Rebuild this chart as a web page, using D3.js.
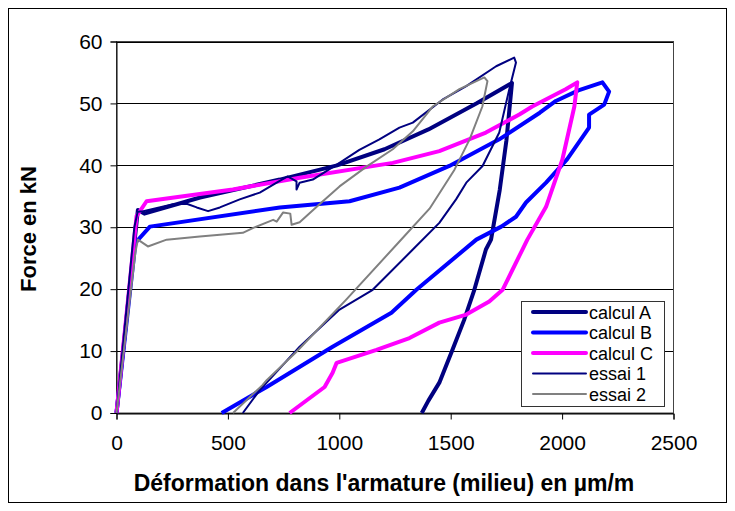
<!DOCTYPE html>
<html><head><meta charset="utf-8">
<script src="https://cdn.jsdelivr.net/npm/d3@7"></script>
<style>body{margin:0;background:#fff}svg{display:block}text{font-family:"Liberation Sans",Arial,sans-serif}</style>
</head><body><svg id="c" width="735" height="511"></svg>
<script>
const xTicks = [0, 500, 1000, 1500, 2000, 2500];
const yTicks = [0, 10, 20, 30, 40, 50, 60];
const seriesNames = ["calcul A", "calcul B", "calcul C", "essai 1", "essai 2"];
const calculA = [[0,0],[96,32.8],[125,32.2],[375,34.8],[733,37.7],[990,40],[1203,42.6],[1400,45.8],[1615,50],[1775,53.3],[1750,44],[1720,36],[1681,28],[1658,26.4],[1606,19.9],[1560,15],[1508,10.2],[1449,4.9],[1400,2],[1370,0]];
const calculB = [[0,0],[85,27.5],[150,30.1],[733,33.2],[1046,34.2],[1270,36.4],[1494,39.9],[1718,44.2],[1900,48.5],[1972,50.4],[2073,52.1],[2181,53.4],[2211,51.9],[2189,49.8],[2121,48.2],[2121,46.1],[2023,41],[1928,37.2],[1838,34],[1793,31.7],[1727,30.1],[1615,28],[1346,19.9],[1234,16.2],[970,10.7],[674,4.2],[472,0]];
const calculC = [[0,0],[90,31.8],[135,34.2],[522,36.1],[822,38.0],[1240,40.4],[1449,42.3],[1658,45.3],[1808,48.2],[1866,49.5],[2016,52.3],[2068,53.4],[2055,49.5],[2001,40.9],[1928,33.3],[1844,28],[1822,26.4],[1733,19.9],[1673,18],[1570,15.9],[1449,14.6],[1315,12.1],[1167,10.2],[988,8.1],[970,6.5],[934,4.2],[777,0]];
const essai1 = [[0,0],[80,30],[95,32.5],[120,32.6],[254,33.7],[315,33.8],[360,33.2],[411,32.6],[464,33.2],[553,34.5],[643,35.6],[719,37.2],[768,38.2],[808,37.4],[808,36.1],[822,37.2],[881,37.7],[1001,40.4],[1090,42.5],[1180,44.2],[1270,46.1],[1330,46.9],[1463,50.6],[1570,52.8],[1704,56],[1785,57.4],[1793,56.6],[1763,52.3],[1718,45.3],[1643,39.9],[1570,37.2],[1524,34.5],[1449,30.7],[1330,26.4],[1150,19.9],[1001,16.7],[822,10.7],[643,3.7],[567,0]];
const essai2 = [[0,0],[85,26],[96,28],[141,26.9],[225,28],[374,28.5],[567,29.1],[614,29.9],[703,31.2],[719,30.9],[748,32.4],[780,32.2],[786,30.4],[822,30.8],[911,33.7],[1001,36.6],[1122,39.8],[1240,42.6],[1330,45.5],[1419,49.5],[1539,52.3],[1651,54.2],[1665,53.6],[1642,49.5],[1585,44.2],[1517,39.3],[1405,33],[1270,27.7],[1031,18.3],[808,9.9],[674,5.3],[655,4.5],[523,0]];
const seriesData = [calculA, calculB, calculC, essai1, essai2];
const colors = ["#000080", "#0000FF", "#FF00FF", "#000080", "#808080"];
const widths = [4, 4, 4, 2, 2];

const svg = d3.select("#c");
const L = 116.5, R = 673.5, T = 41.5, B = 413;
const x = d3.scaleLinear().domain([0, 2500]).range([L, R]);
const y = d3.scaleLinear().domain([0, 60]).range([B, T]);

svg.append("rect").attr("x", 8.5).attr("y", 8.5).attr("width", 718).attr("height", 494)
  .attr("fill", "#fff").attr("stroke", "#000").attr("stroke-width", 1);

// gridlines
svg.append("g").selectAll("line").data(yTicks).join("line")
  .attr("x1", L).attr("x2", R).attr("y1", d => Math.round(y(d)) + 0.5).attr("y2", d => Math.round(y(d)) + 0.5)
  .attr("stroke", "#000").attr("stroke-width", 1);
svg.append("rect").attr("x", L).attr("y", T).attr("width", R - L).attr("height", B - T)
  .attr("fill", "none").attr("stroke", "#444").attr("stroke-width", 1);

const xAxis = svg.append("g").attr("transform", `translate(0,${Math.round(B)+0.5})`)
  .call(d3.axisBottom(x).tickValues(xTicks).tickSize(6).tickPadding(16).tickFormat(d3.format("d")));
const yAxis = svg.append("g").attr("transform", `translate(${L},0)`)
  .call(d3.axisLeft(y).tickValues(yTicks).tickSize(6).tickPadding(8).tickFormat(d3.format("d")));
[xAxis, yAxis].forEach(g => {
  g.select(".domain").attr("stroke", "#000");
  g.selectAll(".tick line").attr("stroke", "#000");
  g.selectAll("text").attr("font-size", 21).attr("fill", "#000").attr("font-family", '"Liberation Sans",Arial,sans-serif');
});

const line = d3.line().x(d => x(d[0])).y(d => y(d[1]));
const plot = svg.append("g");
seriesData.forEach((s, i) => {
  plot.append("path").attr("d", line(s)).attr("fill", "none")
    .attr("stroke", colors[i]).attr("stroke-width", widths[i]).attr("stroke-linejoin", "round");
});

// legend
const lg = svg.append("g");
lg.append("rect").attr("x", 521.5).attr("y", 301.5).attr("width", 143).attr("height", 105)
  .attr("fill", "#fff").attr("stroke", "#333").attr("stroke-width", 1);
seriesNames.forEach((n, i) => {
  const yy = 312 + i * 20.5;
  lg.append("line").attr("x1", 533).attr("x2", 586).attr("y1", yy).attr("y2", yy)
    .attr("stroke", colors[i]).attr("stroke-width", widths[i]).attr("stroke-linecap", "round");
  lg.append("text").attr("x", 589).attr("y", yy + 6.5).attr("font-size", 18).text(n);
});

svg.append("text").attr("x", 384).attr("y", 491).attr("text-anchor", "middle")
  .attr("font-size", 23).attr("font-weight", "bold").text("Déformation dans l'armature (milieu) en µm/m");
svg.append("text").attr("transform", "translate(36,229) rotate(-90)").attr("text-anchor", "middle")
  .attr("font-size", 22).attr("font-weight", "bold").text("Force en kN");
</script></body></html>
